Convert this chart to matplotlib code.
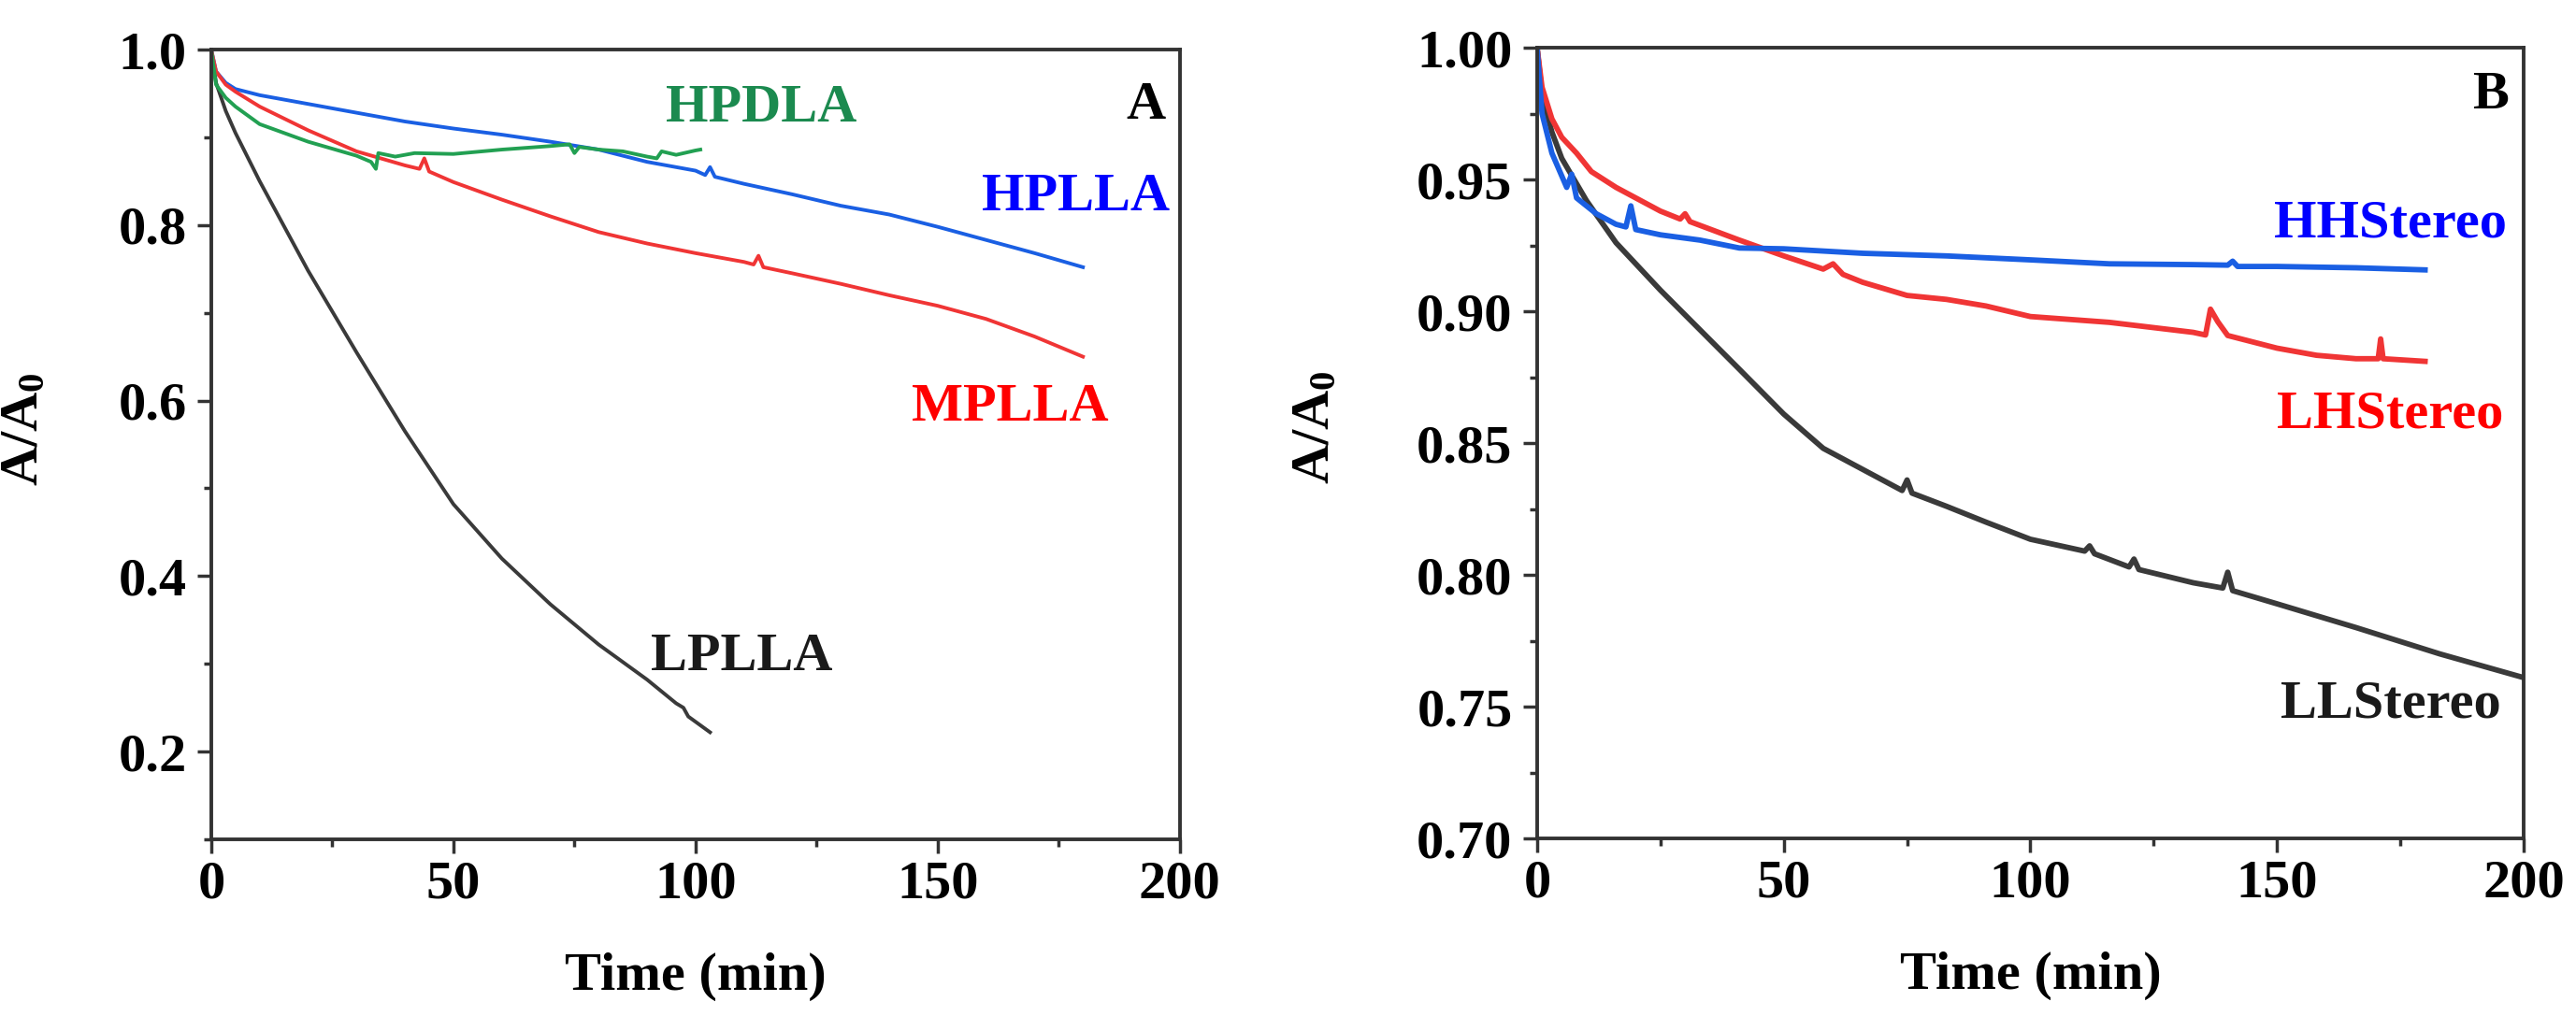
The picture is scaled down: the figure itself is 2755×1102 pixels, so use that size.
import matplotlib
matplotlib.use("Agg")
import matplotlib.pyplot as plt
from matplotlib.ticker import MultipleLocator

plt.rcParams["font.family"] = ["Liberation Serif", "DejaVu Serif"]
plt.rcParams["font.weight"] = "bold"
plt.rcParams["mathtext.fontset"] = "custom"
plt.rcParams["mathtext.rm"] = "Liberation Serif:bold"
plt.rcParams["mathtext.it"] = "Liberation Serif:bold"
plt.rcParams["mathtext.bf"] = "Liberation Serif:bold"

# ---- panel A data ----
lplla_t = [0, 1, 3, 5, 10, 20, 30, 40, 50, 60, 70, 80, 90, 96, 97.5, 98.5, 100, 103]
lplla_v = [1.0, 0.962, 0.93, 0.905, 0.85, 0.748, 0.655, 0.565, 0.482, 0.42, 0.368, 0.322, 0.282, 0.255,
           0.25, 0.24, 0.234, 0.222]

hplla_t = [0, 1, 3, 5, 10, 20, 30, 40, 50, 60, 70, 80, 90, 100, 102, 103, 104, 110, 120, 130, 140,
           150, 160, 170, 180]
hplla_v = [1.0, 0.975, 0.962, 0.955, 0.948, 0.938, 0.928, 0.918, 0.91, 0.903, 0.895, 0.886, 0.872,
           0.862, 0.857, 0.866, 0.855, 0.847, 0.835, 0.822, 0.812, 0.798, 0.783, 0.768, 0.752]

mplla_t = [0, 1, 3, 5, 10, 20, 30, 40, 43, 44, 45, 50, 60, 70, 80, 90, 100, 110, 112, 113, 114,
           120, 130, 140, 150, 160, 170, 180]
mplla_v = [1.0, 0.975, 0.96, 0.952, 0.935, 0.908, 0.884, 0.868, 0.864, 0.876, 0.861, 0.849, 0.829,
           0.81, 0.792, 0.779, 0.768, 0.758, 0.755, 0.765, 0.752, 0.745, 0.733, 0.72, 0.708, 0.693,
           0.673, 0.65]

hpdla_t = [0, 1, 3, 5, 10, 20, 30, 33, 34, 34.5, 38, 42, 50, 60, 70, 74, 75, 76, 80, 85, 90, 92,
           93, 96, 100, 101]
hpdla_v = [1.0, 0.96, 0.945, 0.935, 0.915, 0.895, 0.879, 0.872, 0.864, 0.882, 0.878, 0.882, 0.881,
           0.886, 0.89, 0.892, 0.882, 0.889, 0.886, 0.884, 0.878, 0.876, 0.884, 0.88, 0.885, 0.886]

# ---- panel B data ----
ll_t = [0, 1, 3, 5, 10, 16, 25, 33, 41, 50, 58, 66, 74, 75, 76, 83, 91, 100, 111, 112, 113, 120,
        121, 122, 133, 139, 140, 141, 150, 166, 183, 200]
ll_v = [1.0, 0.982, 0.968, 0.958, 0.942, 0.926, 0.908, 0.893, 0.878, 0.861, 0.848, 0.84, 0.832,
        0.836, 0.831, 0.826, 0.82, 0.8135, 0.809, 0.811, 0.808, 0.803, 0.806, 0.802, 0.797, 0.795,
        0.801, 0.794, 0.789, 0.78, 0.77, 0.761]

hh_t = [0, 1, 3, 6, 7, 8, 12, 16, 18, 19, 20, 25, 33, 41, 50, 66, 83, 100, 116, 133, 140, 141,
        142, 150, 166, 180]
hh_v = [1.0, 0.975, 0.96, 0.947, 0.952, 0.943, 0.937, 0.933, 0.932, 0.94, 0.931, 0.929, 0.927,
        0.924, 0.9237, 0.922, 0.921, 0.9195, 0.918, 0.9177, 0.9175, 0.919, 0.917, 0.917, 0.9165,
        0.9157]

lh_t = [0, 1, 3, 5, 8, 11, 16, 25, 29, 30, 31, 41, 50, 58, 60, 62, 66, 75, 83, 91, 100, 116, 133,
        135.5, 136.5, 138, 140, 150, 158, 166, 170.5, 171, 171.5, 180]
lh_v = [1.0, 0.985, 0.973, 0.966, 0.96, 0.953, 0.947, 0.938, 0.935, 0.937, 0.934, 0.927, 0.921,
        0.916, 0.918, 0.914, 0.911, 0.906, 0.9045, 0.902, 0.898, 0.8958, 0.892, 0.891, 0.9008,
        0.896, 0.8908, 0.886, 0.8833, 0.882, 0.882, 0.8895, 0.882, 0.881]

FS = 42
BLUE_LINE, RED_LINE, GRAY_LINE, GREEN_LINE = "#1a5fe3", "#f03535", "#3a3a3a", "#22a052"


def style_axes(ax, ymajor, yminor, yfmt):
    ax.set_xlim(0, 200)
    ax.xaxis.set_major_locator(MultipleLocator(50))
    ax.xaxis.set_minor_locator(MultipleLocator(25))
    ax.yaxis.set_major_locator(MultipleLocator(ymajor))
    ax.yaxis.set_minor_locator(MultipleLocator(yminor))
    ax.yaxis.set_major_formatter(yfmt)
    ax.tick_params(which="both", direction="out", top=False, right=False, width=2.5,
                   color="#333333")
    ax.tick_params(which="major", length=11, labelsize=FS)
    ax.tick_params(which="minor", length=6)
    ax.tick_params(axis="x", pad=5)
    ax.tick_params(axis="y", pad=8)
    for s in ax.spines.values():
        s.set_linewidth(2.8)
        s.set_color("#333333")
    ax.set_xlabel("Time (min)", fontsize=FS, fontweight="bold")
    ax.set_ylabel(r"$\mathrm{A/A_0}$", fontsize=FS)
    ax.xaxis.set_label_coords(0.5, -0.143)


fig = plt.figure(figsize=(27.55, 11.02), dpi=100)
axA = fig.add_axes([0.0820, 0.1851, 0.3760, 0.7668])
axB = fig.add_axes([0.5967, 0.1860, 0.3830, 0.7677])

# panel A
axA.plot(lplla_t, lplla_v, color=GRAY_LINE, lw=2.8)
axA.plot(hplla_t, hplla_v, color=BLUE_LINE, lw=2.8)
axA.plot(mplla_t, mplla_v, color=RED_LINE, lw=2.8)
axA.plot(hpdla_t, hpdla_v, color=GREEN_LINE, lw=2.8)
axA.set_ylim(0.1, 1.0)
style_axes(axA, 0.2, 0.1, "{x:.1f}")
axA.yaxis.set_label_coords(-0.168, 0.52)

axA.text(197, 0.936, "A", fontsize=FS, fontweight="bold", ha="right", va="center")
axA.text(113.5, 0.933, "HPDLA", color="#1b8a4f", fontsize=FS, fontweight="bold",
         ha="center", va="center")
axA.text(178.5, 0.832, "HPLLA", color="#0000ff", fontsize=FS, fontweight="bold",
         ha="center", va="center")
axA.text(165, 0.592, "MPLLA", color="#ff0000", fontsize=FS, fontweight="bold",
         ha="center", va="center")
axA.text(109.5, 0.308, "LPLLA", color="#1a1a1a", fontsize=FS, fontweight="bold",
         ha="center", va="center")

# panel B
axB.plot(ll_t, ll_v, color=GRAY_LINE, lw=4.2)
axB.plot(lh_t, lh_v, color=RED_LINE, lw=4.2)
axB.plot(hh_t, hh_v, color=BLUE_LINE, lw=4.2)
axB.set_ylim(0.70, 1.00)
style_axes(axB, 0.05, 0.025, "{x:.2f}")
axB.yaxis.set_label_coords(-0.20, 0.52)

axB.text(197, 0.982, "B", fontsize=FS, fontweight="bold", ha="right", va="center")
axB.text(173, 0.933, "HHStereo", color="#0000ff", fontsize=FS, fontweight="bold",
         ha="center", va="center")
axB.text(173, 0.861, "LHStereo", color="#ff0000", fontsize=FS, fontweight="bold",
         ha="center", va="center")
axB.text(173, 0.751, "LLStereo", color="#1a1a1a", fontsize=FS, fontweight="bold",
         ha="center", va="center")

fig.savefig("out.png", dpi=100, facecolor="white")
